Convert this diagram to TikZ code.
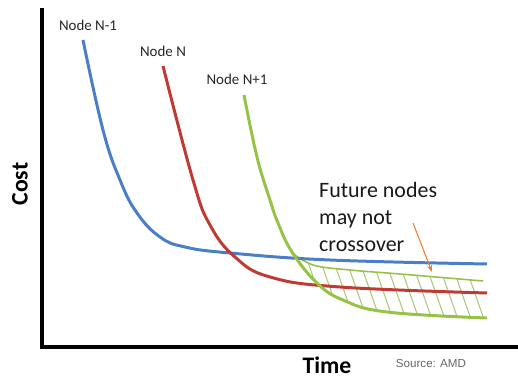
\documentclass[tikz,border=0pt]{standalone}
\usepackage{fontspec}
\setmainfont{Carlito}
\newfontfamily\arialfont{Liberation Sans}
\usetikzlibrary{calc, arrows.meta}

\definecolor{nodeblue}{RGB}{74,126,198}
\definecolor{nodered}{RGB}{192,58,52}
\definecolor{nodegreen}{RGB}{150,194,70}
\definecolor{hatchgreen}{RGB}{170,200,120}
\definecolor{arroworange}{RGB}{237,125,49}

\tikzset{
	curve/.style = {line width=1.7pt, smooth, tension=0.7},
	nodelabel/.style = {font=\fontsize{8.5}{10}\selectfont, text=black!85},
	axislabel/.style = {font=\fontsize{13.5}{16}\selectfont\bfseries}
}

\begin{document}
\begin{tikzpicture}[x=0.02cm, y=-0.02cm]
			\useasboundingbox (0,0) rectangle (518,378);

			% axes
			\coordinate (top) at (42,8);
			\coordinate (origin) at (42,347);
			\coordinate (right) at (518,347);
			\draw[line width=1.8pt] (top) -- (origin) -- (right);

			\node[axislabel, rotate=90] (cost) at (20,184) {Cost};
			\node[axislabel] (time) at (327,365) {Time};
			\node[font=\arialfont\fontsize{6.6}{8}\selectfont, text=black!60] (source) at (431,364) {Source: AMD};

			% hatched band
			\begin{scope}
				\clip plot[smooth, tension=0.6] coordinates {(291,252) (313,265) (350,270) (400,274) (483,281)}
					-- (487,318)
					-- plot[smooth, tension=0.7] coordinates {(487,318) (387,312) (343,300) (317,283) (292,252)} -- cycle;
				\foreach \x in {250,263,...,500}
					\draw[hatchgreen, line width=0.6pt] (\x,245) -- (\x+28,325);
			\end{scope}
			\draw[nodegreen, line width=0.9pt] plot[smooth, tension=0.6] coordinates {(291,252) (313,265) (350,270) (400,274) (483,281)};

			% cost curves
			\draw[nodeblue, curve] plot coordinates {(83,40) (103,130) (120,180) (137,213) (160,237) (185,247) (230,253) (330,260) (487,264)};
			\draw[nodered, curve] plot coordinates {(163,66) (193,180) (210,225) (235,257) (270,277) (340,287) (487,293)};
			\draw[nodegreen, curve] plot coordinates {(244,95) (257,157) (270,200) (278,223) (292,252) (317,283) (343,300) (387,312) (487,318)};

			\node[nodelabel] (nm1) at (88,25) {Node N-1};
			\node[nodelabel] (n0) at (163,51) {Node N};
			\node[nodelabel] (np1) at (237,79) {Node N+1};

			% annotation
			\node[font=\fontsize{12.5}{15.3}\selectfont, align=left, anchor=north west, text=black!90] (future) at (313,176) {Future nodes\\may not\\crossover};
			\coordinate (tip) at (432,272);
			\draw[arroworange, line width=0.6pt, -{Stealth[length=4pt, width=3pt]}] (413,223) -- (tip);
		\end{tikzpicture}
\end{document}
